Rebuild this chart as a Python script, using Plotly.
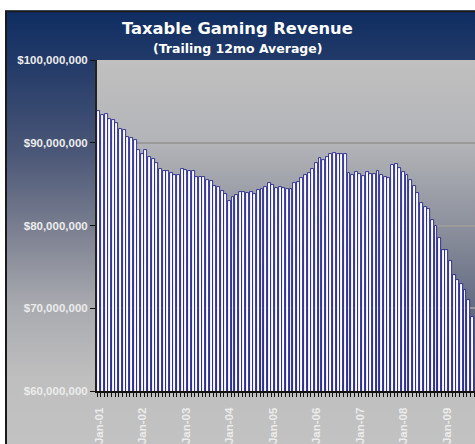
import base64
import plotly.graph_objects as go

## chart texts
TITLE = 'Taxable Gaming Revenue'
SUBTITLE = '(Trailing 12mo Average)'

# trailing 12 month average of taxable gaming revenue, millions of dollars
# one value per month starting with Jan-01 (the picture is cut off after Aug-09)
revenue_musd = [
    93.8, 93.4, 93.45, 92.9, 92.75, 92.4, 91.65, 91.6, 90.75, 90.55, 90.35, 89.1,   # 2001
    88.7, 89.1, 88.25, 88.05, 87.5, 86.8, 86.55, 86.6, 86.3, 86.1, 86.15, 86.8,    # 2002
    86.7, 86.6, 86.6, 85.85, 85.9, 85.9, 85.45, 85.4, 84.8, 84.7, 84.2, 83.8,      # 2003
    83.0, 83.5, 83.7, 84.1, 84.0, 83.9, 84.0, 83.85, 84.3, 84.4, 84.65, 85.1,      # 2004
    84.9, 84.55, 84.6, 84.5, 84.4, 84.4, 85.1, 85.25, 85.75, 86.1, 86.4, 86.8,     # 2005
    87.5, 88.1, 87.9, 88.3, 88.6, 88.8, 88.7, 88.7, 88.7, 86.4, 86.1, 86.5,        # 2006
    86.2, 85.95, 86.5, 86.25, 86.25, 86.6, 86.05, 85.9, 85.7, 87.3, 87.45, 86.9,   # 2007
    86.5, 86.15, 85.55, 84.8, 83.9, 82.7, 82.2, 81.95, 80.65, 79.9, 78.5, 77.1,    # 2008
    77.05, 75.7, 74.0, 73.4, 72.9, 72.2, 71.0, 69.0,                               # 2009
]

# x tick labels, one for each january (every 12th month)
tick_labels = ['Jan-01', 'Jan-02', 'Jan-03', 'Jan-04', 'Jan-05',
               'Jan-06', 'Jan-07', 'Jan-08', 'Jan-09']
MONTHS_PER_YEAR = 12

# y ticks in dollars and their labels
y_ticks = [60000000, 70000000, 80000000, 90000000, 100000000]
y_tick_labels = ['$60,000,000', '$70,000,000', '$80,000,000', '$90,000,000', '$100,000,000']

# figure geometry in pixels
WIDTH, HEIGHT = 475, 444
M_LEFT, M_TOP, M_BOTTOM = 97, 60, 45
PLOT_W = WIDTH - M_LEFT
PLOT_H = HEIGHT - M_TOP - M_BOTTOM

TICK_FONT = dict(family='Liberation Sans, Arial', size=11.5, color='#ececec', weight='bold')
TITLE_FONT = 'DejaVu Sans, Verdana'


def svg_uri(svg):
    return 'data:image/svg+xml;base64,' + base64.b64encode(svg.encode()).decode()


def px_to_paper_x(px):
    return (px - M_LEFT) / PLOT_W


def px_to_paper_y(py):
    return (HEIGHT - M_BOTTOM - py) / PLOT_H


# chart area: navy at the top fading into grey, dark frame on top and left
box_w, box_h = 480, 445
chart_area_svg = f'''<svg xmlns="http://www.w3.org/2000/svg" width="{box_w}" height="{box_h}"
 viewBox="0 0 {box_w} {box_h}" preserveAspectRatio="none">
<defs><linearGradient id="g" x1="0" y1="0" x2="0" y2="1">
<stop offset="0" stop-color="#0f2d62"/>
<stop offset="0.12" stop-color="#223a68"/>
<stop offset="0.33" stop-color="#4b5777"/>
<stop offset="0.52" stop-color="#7f8393"/>
<stop offset="0.68" stop-color="#a9aab0"/>
<stop offset="0.85" stop-color="#bfbfbf"/>
<stop offset="1" stop-color="#c2c2c2"/>
</linearGradient></defs>
<rect x="0" y="0" width="{box_w}" height="{box_h}" fill="url(#g)"/>
<path d="M1,{box_h} L1,1 L{box_w},1" fill="none" stroke="#1a1a1a" stroke-width="2"/>
</svg>'''

# plot area: light grey at the top fading into dark slate
plot_area_svg = f'''<svg xmlns="http://www.w3.org/2000/svg" width="{PLOT_W}" height="{PLOT_H}"
 viewBox="0 0 {PLOT_W} {PLOT_H}" preserveAspectRatio="none">
<defs><linearGradient id="p" x1="0" y1="0" x2="0" y2="1">
<stop offset="0" stop-color="#c0c0c0"/>
<stop offset="0.25" stop-color="#b3b4b8"/>
<stop offset="0.5" stop-color="#8d919d"/>
<stop offset="0.75" stop-color="#636b83"/>
<stop offset="1" stop-color="#46506d"/>
</linearGradient></defs>
<rect x="0" y="0" width="{PLOT_W}" height="{PLOT_H}" fill="url(#p)"/>
</svg>'''

# months are evenly spaced categories, numbered from Jan-01
month_index = list(range(len(revenue_musd)))
revenue = [v * 10 ** 6 for v in revenue_musd]
tick_positions = [MONTHS_PER_YEAR * k for k in range(len(tick_labels))]

fig = go.Figure()

fig.add_trace(go.Bar(
    x=month_index,
    y=revenue,
    width=0.8,
    marker=dict(color='white', line=dict(color='#0a0a88', width=0.8)),
    showlegend=False,
))

fig.update_layout(
    width=WIDTH,
    height=HEIGHT,
    margin=dict(l=M_LEFT, r=0, t=M_TOP, b=M_BOTTOM, pad=0),
    paper_bgcolor='white',
    plot_bgcolor='rgba(0,0,0,0)',
    bargap=0,
    images=[
        dict(source=svg_uri(chart_area_svg), xref='paper', yref='paper',
             x=px_to_paper_x(5), y=px_to_paper_y(9),
             sizex=box_w / PLOT_W, sizey=box_h / PLOT_H,
             xanchor='left', yanchor='top', sizing='stretch', layer='below'),
        dict(source=svg_uri(plot_area_svg), xref='paper', yref='paper',
             x=0, y=1, sizex=1, sizey=1,
             xanchor='left', yanchor='top', sizing='stretch', layer='below'),
    ],
    annotations=[
        dict(text=TITLE, xref='paper', yref='paper',
             x=px_to_paper_x(WIDTH / 2), y=px_to_paper_y(28),
             xanchor='center', yanchor='middle', showarrow=False,
             font=dict(family=TITLE_FONT, size=16.3, color='white', weight='bold')),
        dict(text=SUBTITLE, xref='paper', yref='paper',
             x=px_to_paper_x(WIDTH / 2), y=px_to_paper_y(48),
             xanchor='center', yanchor='middle', showarrow=False,
             font=dict(family=TITLE_FONT, size=12.5, color='white', weight='bold')),
    ],
)

fig.update_xaxes(
    type='linear',
    range=[-0.5, 103.77],
    tickvals=tick_positions,
    ticktext=tick_labels,
    tickangle=-90,
    tickfont=TICK_FONT,
    ticks='outside',
    ticklen=10,
    tickcolor='rgba(0,0,0,0)',
    minor=dict(ticks='outside', ticklen=4, tickcolor='#111111', tickwidth=1,
               tick0=-0.5, dtick=1, showgrid=False),
    showgrid=False,
    showline=True,
    linecolor='#111111',
    linewidth=2,
    zeroline=False,
    fixedrange=True,
)

fig.update_yaxes(
    range=[60000000, 100000000],
    tickvals=y_ticks,
    ticktext=y_tick_labels,
    tickfont=TICK_FONT,
    ticks='outside',
    ticklen=5,
    tickcolor='#111111',
    showgrid=True,
    gridcolor='#9a9a9a',
    gridwidth=1.5,
    showline=True,
    linecolor='#222222',
    linewidth=2,
    zeroline=False,
    fixedrange=True,
)

# the page should start at the window corner, like the cropped reference picture
fig.write_html('out.html', config={'displayModeBar': False},
               post_script="document.body.style.margin='0';document.body.style.overflow='hidden';")
